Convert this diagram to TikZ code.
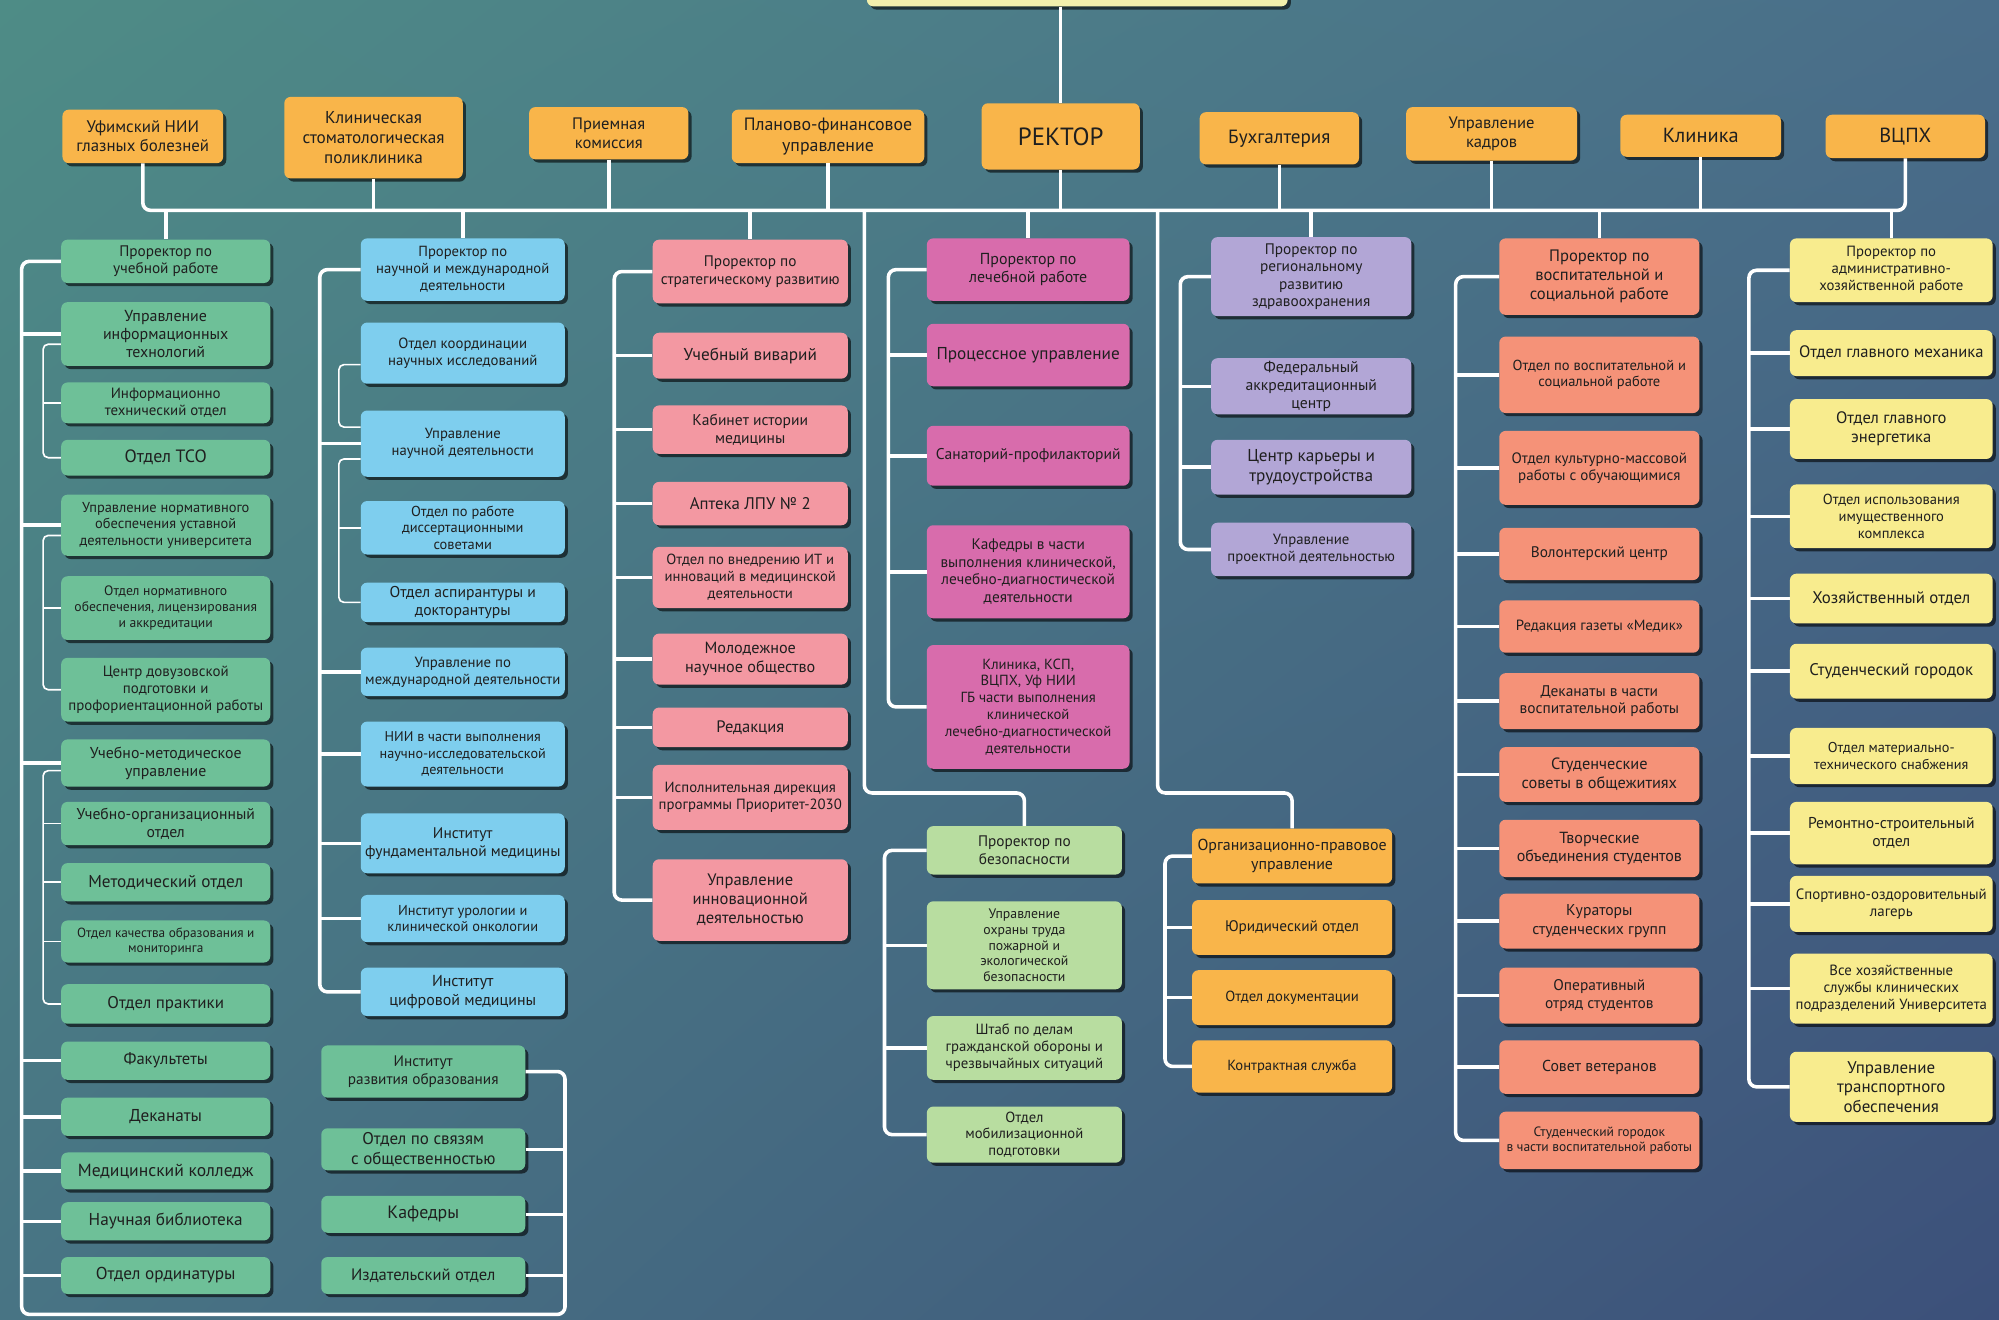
\documentclass[tikz,border=0pt]{standalone}
\usepackage{fontspec}
\setmainfont{PT Sans}
\usetikzlibrary{shadows,shadings}

\definecolor{bgA}{RGB}{78,140,134}
\definecolor{bgB}{RGB}{74,110,138}
\definecolor{bgC}{RGB}{72,116,132}
\definecolor{bgD}{RGB}{60,80,122}
\definecolor{corange}{RGB}{249,181,74}
\definecolor{cpale}{RGB}{242,240,172}
\definecolor{cgreen}{RGB}{110,192,152}
\definecolor{cblue}{RGB}{126,206,238}
\definecolor{cpink}{RGB}{243,152,162}
\definecolor{cmag}{RGB}{216,108,172}
\definecolor{clgreen}{RGB}{184,221,160}
\definecolor{clav}{RGB}{178,166,214}
\definecolor{csalmon}{RGB}{245,146,120}
\definecolor{cyellow}{RGB}{248,236,142}

\newcommand\fk{1}

\tikzset{
  box/.style={rectangle, rounded corners=5pt, align=center, inner sep=1pt,
    text=black!88,
    drop shadow={shadow xshift=2.5pt, shadow yshift=-2.5pt, opacity=0.6, fill=black}},
  fs/.style={font=\fontsize{\fpeval{\fk*#1}}{\fpeval{1.15*\fk*#1}}\selectfont},
  thk/.style={draw=white, line width=2.8pt},
  thn/.style={draw=white, line width=1.3pt},
  head/.style={box, fill=corange},
  cA/.style={box, fill=cgreen, minimum width=164pt},
  cE/.style={box, fill=cgreen, minimum width=160pt},
  cB/.style={box, fill=cblue, minimum width=160pt},
  cC/.style={box, fill=cpink, minimum width=153pt},
  cD/.style={box, fill=cmag, minimum width=159pt},
  cS/.style={box, fill=clgreen, minimum width=153pt},
  cO/.style={box, fill=corange, minimum width=157pt},
  cR/.style={box, fill=clav, minimum width=157pt},
  cV/.style={box, fill=csalmon, minimum width=157pt},
  cY/.style={box, fill=cyellow, minimum width=159pt}
}

\begin{document}
\begin{tikzpicture}[x=1pt,y=-1pt]
\useasboundingbox (0,0) rectangle (1568,1035);
\shade[upper left=bgA, upper right=bgB, lower left=bgC, lower right=bgD] (0,0) rectangle (1568,1035);

% top row
\node[box, fill=cpale, minimum width=330pt, minimum height=60pt] (top) at (845,-25) {};
\node[head, fs=13.2, minimum width=126pt, minimum height=42pt] (ufa) at (112,107) {Уфимский НИИ\\глазных болезней};
\node[head, fs=13.5, minimum width=140pt, minimum height=64pt] (stom) at (293,108) {Клиническая\\стоматологическая\\поликлиника};
\node[head, fs=13, minimum width=125pt, minimum height=41pt] (priem) at (477.5,104.5) {Приемная\\комиссия};
\node[head, fs=14, minimum width=151pt, minimum height=42pt] (plan) at (649.5,107) {Планово-финансовое\\управление};
\node[head, fs=19.5, minimum width=124pt, minimum height=52pt] (rector) at (832,107) {РЕКТОР};
\node[head, fs=15, minimum width=125pt, minimum height=41pt] (buh) at (1003.5,108.5) {Бухгалтерия};
\node[head, fs=13, minimum width=134pt, minimum height=42pt] (kadr) at (1170,105) {Управление\\кадров};
\node[head, fs=16, minimum width=126pt, minimum height=33pt] (klin) at (1334,106.5) {Клиника};
\node[head, fs=16, minimum width=125pt, minimum height=34pt] (vcph) at (1494.5,107) {ВЦПХ};

% column 1
\node[cA, fs=12, minimum height=34pt] (u1) at (130,205) {Проректор по\\учебной работе};
\node[cA, fs=12.5, minimum height=50pt] (u2) at (130,262) {Управление\\информационных\\технологий};
\node[cA, fs=11.7, minimum height=32pt] (u3) at (130,316) {Информационно\\технический отдел};
\node[cA, fs=14, minimum height=28pt] (u4) at (130,359) {Отдел ТСО};
\node[cA, fs=11.3, minimum height=48pt] (u5) at (130,412) {Управление нормативного\\обеспечения уставной\\деятельности университета};
\node[cA, fs=10.7, minimum height=50pt] (u6) at (130,477) {Отдел нормативного\\обеспечения, лицензирования\\и аккредитации};
\node[cA, fs=11.7, minimum height=50pt] (u7) at (130,541) {Центр довузовской\\подготовки и\\профориентационной работы};
\node[cA, fs=12.4, minimum height=37pt] (u8) at (130,598.5) {Учебно-методическое\\управление};
\node[cA, fs=12.3, minimum height=34pt] (u9) at (130,646) {Учебно-организационный\\отдел};
\node[cA, fs=13.5, minimum height=30pt] (u10) at (130,692) {Методический отдел};
\node[cA, fs=10.4, minimum height=33pt] (u11) at (130,738.5) {Отдел качества образования и\\мониторинга};
\node[cA, fs=13.3, minimum height=31pt] (u12) at (130,787.5) {Отдел практики};
\node[cA, fs=13, minimum height=30pt] (u13) at (130,832) {Факультеты};
\node[cA, fs=13.5, minimum height=30pt] (u14) at (130,876) {Деканаты};
\node[cA, fs=13.8, minimum height=29pt] (u15) at (130,918.5) {Медицинский колледж};
\node[cA, fs=13.5, minimum height=30pt] (u16) at (130,958) {Научная библиотека};
\node[cA, fs=13.5, minimum height=29pt] (u17) at (130,1000.5) {Отдел ординатуры};

% column 2
\node[cB, fs=11.5, minimum height=49pt] (n1) at (363,211.5) {Проректор по\\научной и международной\\деятельности};
\node[cB, fs=11.6, minimum height=48pt] (n2) at (363,277) {Отдел координации\\научных исследований};
\node[cB, fs=11.5, minimum height=52pt] (n3) at (363,348) {Управление\\научной деятельности};
\node[cB, fs=11.3, minimum height=42pt] (n4) at (363,414) {Отдел по работе\\диссертационными\\советами};
\node[cB, fs=12.3, minimum height=31pt] (n5) at (363,472.5) {Отдел аспирантуры и\\докторантуры};
\node[cB, fs=11.6, minimum height=38pt] (n6) at (363,527) {Управление по\\международной деятельности};
\node[cB, fs=11.1, minimum height=51pt] (n7) at (363,591.5) {НИИ в части выполнения\\научно-исследовательской\\деятельности};
\node[cB, fs=12.1, minimum height=47pt] (n8) at (363,661.5) {Институт\\фундаментальной медицины};
\node[cB, fs=11.3, minimum height=37pt] (n9) at (363,720.5) {Институт урологии и\\клинической онкологии};
\node[cB, fs=12.5, minimum height=38pt] (n10) at (363,778) {Институт\\цифровой медицины};
\node[cE, fs=12, minimum height=41pt] (e1) at (332,840.5) {Институт\\развития образования};
\node[cE, fs=13.3, minimum height=33pt] (e2) at (332,901.5) {Отдел по связям\\с общественностью};
\node[cE, fs=14, minimum height=29pt] (e3) at (332,952.5) {Кафедры};
\node[cE, fs=13, minimum height=29pt] (e4) at (332,1000.5) {Издательский отдел};

% column 3
\node[cC, fs=12, minimum height=50pt] (s1) at (588.5,213) {Проректор по\\стратегическому развитию};
\node[cC, fs=13.5, minimum height=36pt] (s2) at (588.5,279) {Учебный виварий};
\node[cC, fs=12.2, minimum height=38pt] (s3) at (588.5,337) {Кабинет истории\\медицины};
\node[cC, fs=13.2, minimum height=34pt] (s4) at (588.5,395) {Аптека ЛПУ № 2};
\node[cC, fs=11.5, minimum height=48pt] (s5) at (588.5,453) {Отдел по внедрению ИТ и\\инноваций в медицинской\\деятельности};
\node[cC, fs=12.7, minimum height=40pt] (s6) at (588.5,517) {Молодежное\\научное общество};
\node[cC, fs=13, minimum height=31pt] (s7) at (588.5,570.5) {Редакция};
\node[cC, fs=11.6, minimum height=51pt] (s8) at (588.5,625.5) {Исполнительная дирекция\\программы Приоритет-2030};
\node[cC, fs=13, minimum height=64pt] (s9) at (588.5,706) {Управление\\инновационной\\деятельностью};

% column 4
\node[cD, fs=12.5, minimum height=49pt] (l1) at (806.5,211.5) {Проректор по\\лечебной работе};
\node[cD, fs=13.5, minimum height=49pt] (l2) at (806.5,278.5) {Процессное управление};
\node[cD, fs=12.2, minimum height=47pt] (l3) at (806.5,357.5) {Санаторий-профилакторий};
\node[cD, fs=12, minimum height=73pt] (l4) at (806.5,448.5) {Кафедры в части\\выполнения клинической,\\лечебно-диагностической\\деятельности};
\node[cD, fs=11.5, minimum height=97pt] (l5) at (806.5,554.5) {Клиника, КСП,\\ВЦПХ, Уф НИИ\\ГБ части выполнения\\клинической\\лечебно-диагностической\\деятельности};
\node[cS, fs=12, minimum height=38pt] (b1) at (803.5,667) {Проректор по\\безопасности};
\node[cS, fs=10.8, minimum height=69pt] (b2) at (803.5,741.5) {Управление\\охраны труда\\пожарной и\\экологической\\безопасности};
\node[cS, fs=11.6, minimum height=50pt] (b3) at (803.5,822) {Штаб по делам\\гражданской обороны и\\чрезвычайных ситуаций};
\node[cS, fs=11.5, minimum height=44pt] (b4) at (803.5,890) {Отдел\\мобилизационной\\подготовки};

% column 5
\node[cR, fs=12, minimum height=62pt] (r1) at (1028.5,217) {Проректор по\\региональному\\развитию\\здравоохранения};
\node[cR, fs=12.3, minimum height=44pt] (r2) at (1028.5,303) {Федеральный\\аккредитационный\\центр};
\node[cR, fs=13.5, minimum height=43pt] (r3) at (1028.5,366.5) {Центр карьеры и\\трудоустройства};
\node[cR, fs=11.6, minimum height=42pt] (r4) at (1028.5,431) {Управление\\проектной деятельностью};
\node[cO, fs=12.5, minimum height=43pt] (o1) at (1013.5,671.5) {Организационно-правовое\\управление};
\node[cO, fs=12, minimum height=43pt] (o2) at (1013.5,727.5) {Юридический отдел};
\node[cO, fs=11.5, minimum height=43pt] (o3) at (1013.5,782.5) {Отдел документации};
\node[cO, fs=11.5, minimum height=41pt] (o4) at (1013.5,836.5) {Контрактная служба};

% column 6
\node[cV, fs=13, minimum height=60pt] (v1) at (1254.5,217) {Проректор по\\воспитательной и\\социальной работе};
\node[cV, fs=11.4, minimum height=60pt] (v2) at (1254.5,294) {Отдел по воспитательной и\\социальной работе};
\node[cV, fs=11.8, minimum height=58pt] (v3) at (1254.5,367) {Отдел культурно-массовой\\работы с обучающимися};
\node[cV, fs=12, minimum height=41pt] (v4) at (1254.5,434.5) {Волонтерский центр};
\node[cV, fs=11.6, minimum height=41pt] (v5) at (1254.5,491.5) {Редакция газеты «Медик»};
\node[cV, fs=12.1, minimum height=44pt] (v6) at (1254.5,550) {Деканаты в части\\воспитательной работы};
\node[cV, fs=12.8, minimum height=43pt] (v7) at (1254.5,607.5) {Студенческие\\советы в общежитиях};
\node[cV, fs=12.6, minimum height=45pt] (v8) at (1254.5,665.5) {Творческие\\объединения студентов};
\node[cV, fs=12.3, minimum height=43pt] (v9) at (1254.5,722.5) {Кураторы\\студенческих групп};
\node[cV, fs=12.1, minimum height=44pt] (v10) at (1254.5,781) {Оперативный\\отряд студентов};
\node[cV, fs=12.4, minimum height=42pt] (v11) at (1254.5,837) {Совет ветеранов};
\node[cV, fs=10.6, minimum height=45pt] (v12) at (1254.5,894.5) {Студенческий городок\\в части воспитательной работы};

% column 7
\node[cY, fs=11.6, minimum height=50pt] (a1) at (1483.5,212) {Проректор по\\административно-\\хозяйственной работе};
\node[cY, fs=13, minimum height=36pt] (a2) at (1483.5,277) {Отдел главного механика};
\node[cY, fs=13, minimum height=47pt] (a3) at (1483.5,336.5) {Отдел главного\\энергетика};
\node[cY, fs=11.4, minimum height=50pt] (a4) at (1483.5,405) {Отдел использования\\имущественного\\комплекса};
\node[cY, fs=13.2, minimum height=39pt] (a5) at (1483.5,469.5) {Хозяйственный отдел};
\node[cY, fs=13.2, minimum height=43pt] (a6) at (1483.5,526.5) {Студенческий городок};
\node[cY, fs=11.2, minimum height=44pt] (a7) at (1483.5,593) {Отдел материально-\\технического снабжения};
\node[cY, fs=12.3, minimum height=49pt] (a8) at (1483.5,653.5) {Ремонтно-строительный\\отдел};
\node[cY, fs=11.7, minimum height=44pt] (a9) at (1483.5,709) {Спортивно-оздоровительный\\лагерь};
\node[cY, fs=11.6, minimum height=55pt] (a10) at (1483.5,775.5) {Все хозяйственные\\службы клинических\\подразделений Университета};
\node[cY, fs=13.3, minimum height=55pt] (a11) at (1483.5,852.5) {Управление\\транспортного\\обеспечения};

% connectors
\coordinate (bus) at (0,165);
\coordinate (jb) at (678,622);
\coordinate (jo) at (908,622);
\draw[thk] (rector.north |- top.south) -- (rector.north);
\draw[thk, rounded corners=6pt] (ufa.south) -- (ufa.south |- bus) -- (vcph.south |- bus) -- (vcph.south);
\foreach \n in {stom,priem,plan,rector,buh,kadr,klin}
  \draw[thk] (\n.south) -- (\n.south |- bus);
\foreach \n in {u1,n1,s1,l1,r1,v1,a1}
  \draw[thk] (\n.north |- bus) -- (\n.north);
\draw[thk, rounded corners=6pt] (jb |- bus) -- (jb) -- (jb -| b1.north) -- (b1.north);
\draw[thk, rounded corners=6pt] (jo |- bus) -- (jo) -- (jo -| o1.north) -- (o1.north);

\draw[thk, rounded corners=6pt] (u1.west) -| (17,1031) -| ([xshift=31pt]e1.east) -- (e1.east);
\foreach \n in {u2,u5,u8,u13,u14,u15,u16,u17}
  \draw[thk] (\n.west) -- ++(-31,0);
\foreach \n in {e2,e3,e4}
  \draw[thk] (\n.east) -- ++(31,0);
\draw[thn, rounded corners=4pt] ([yshift=-8pt]u2.west) -- ++(-14,0) |- (u4.west);
\draw[thn] (u3.west) -- ++(-14,0);
\draw[thn, rounded corners=4pt] ([yshift=-8pt]u5.west) -- ++(-14,0) |- (u7.west);
\draw[thn] (u6.west) -- ++(-14,0);
\draw[thn, rounded corners=4pt] ([yshift=-6pt]u8.west) -- ++(-14,0) |- (u12.west);
\foreach \n in {u9,u10,u11}
  \draw[thn] (\n.west) -- ++(-14,0);

\draw[thk, rounded corners=6pt] (n1.west) -- ++(-32,0) |- (n10.west);
\foreach \n in {n3,n6,n7,n8,n9}
  \draw[thk] (\n.west) -- ++(-32,0);
\draw[thn, rounded corners=4pt] ([yshift=-9pt]n2.west) -- ++(-17,0) |- ([yshift=13pt]n3.west);
\draw[thn, rounded corners=4pt] ([yshift=-12pt]n3.west) -- ++(-17,0) |- (n5.west);
\draw[thn] (n4.west) -- ++(-17,0);

\draw[thk, rounded corners=6pt] (s1.west) -- ++(-30,0) |- (s9.west);
\foreach \n in {s2,s3,s4,s5,s6,s7,s8}
  \draw[thk] (\n.west) -- ++(-30,0);

\draw[thk, rounded corners=6pt] (l1.west) -- ++(-30,0) |- (l5.west);
\foreach \n in {l2,l3,l4}
  \draw[thk] (\n.west) -- ++(-30,0);
\draw[thk, rounded corners=6pt] (b1.west) -- ++(-33,0) |- (b4.west);
\foreach \n in {b2,b3}
  \draw[thk] (\n.west) -- ++(-33,0);

\draw[thk, rounded corners=6pt] (r1.west) -- ++(-24,0) |- (r4.west);
\foreach \n in {r2,r3}
  \draw[thk] (\n.west) -- ++(-24,0);
\draw[thk, rounded corners=6pt] (o1.west) -- ++(-21,0) |- (o4.west);
\foreach \n in {o2,o3}
  \draw[thk] (\n.west) -- ++(-21,0);

\draw[thk, rounded corners=6pt] (v1.west) -- ++(-34,0) |- (v12.west);
\foreach \n in {v2,v3,v4,v5,v6,v7,v8,v9,v10,v11}
  \draw[thk] (\n.west) -- ++(-34,0);

\draw[thk, rounded corners=6pt] (a1.west) -- ++(-32,0) |- (a11.west);
\foreach \n in {a2,a3,a4,a5,a6,a7,a8,a9,a10}
  \draw[thk] (\n.west) -- ++(-32,0);
\end{tikzpicture}
\end{document}
